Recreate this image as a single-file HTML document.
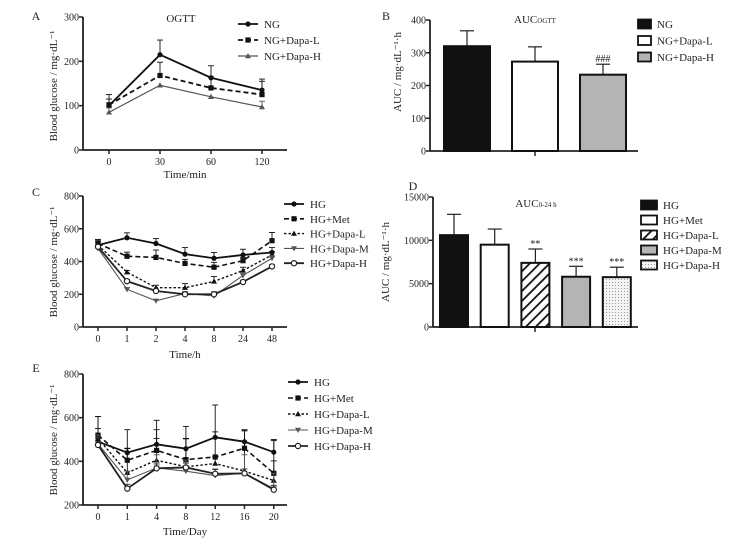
<!DOCTYPE html>
<html><head><meta charset="utf-8"><style>
html,body{margin:0;padding:0;background:#fff}
svg{display:block;font-family:"Liberation Serif",serif}
</style></head><body>
<svg id="fig" width="746" height="543" viewBox="0 0 746 543" xmlns="http://www.w3.org/2000/svg">
<defs>
<pattern id="hatch" patternUnits="userSpaceOnUse" width="7" height="7" patternTransform="rotate(45)"><rect width="7" height="7" fill="#fff"/><rect width="1.8" height="7" fill="#111"/></pattern>
<pattern id="dots" patternUnits="userSpaceOnUse" width="3" height="3"><rect width="3" height="3" fill="#f4f4f4"/><rect width="1" height="1" fill="#999"/></pattern>
</defs>
</svg>
<script>
// ---------- Panel A data ----------
const aX = ["0","30","60","120"];
const aNames = ["NG","NG+Dapa-L","NG+Dapa-H"];
const aNG = [100,215,163,135];
const aNGerr = [25,33,27,25];
const aL = [102,168,140,125];
const aLerr = [13,30,25,30];
const aH = [85,146,120,97];
const aHerr = [10,0,0,13];
const aYTicks = [0,100,200,300];
// ---------- Panel B data ----------
const bNames = ["NG","NG+Dapa-L","NG+Dapa-H"];
const bVals = [320,273,233];
const bErr = [47,45,32];
const bYTicks = [0,100,200,300,400];
// ---------- Panel C data ----------
const cX = ["0","1","2","4","8","24","48"];
const cNames = ["HG","HG+Met","HG+Dapa-L","HG+Dapa-M","HG+Dapa-H"];
const cHG = [500,545,510,445,420,440,455];
const cHGerr = [30,30,30,40,35,35,30];
const cMet = [510,432,425,388,365,405,527];
const cMeterr = [25,25,45,25,30,20,50];
const cL = [500,335,240,240,278,345,440];
const cLerr = [20,10,15,25,30,20,20];
const cM = [480,230,160,205,190,315,420];
const cMerr = [10,10,5,10,10,10,15];
const cH = [490,280,220,200,200,275,370];
const cHerr = [10,10,10,10,15,10,10];
const cYTicks = [0,200,400,600,800];
// ---------- Panel D data ----------
const dNames = ["HG","HG+Met","HG+Dapa-L","HG+Dapa-M","HG+Dapa-H"];
const dVals = [10600,9500,7400,5800,5750];
const dErr = [2400,1800,1600,1200,1150];
const dSig = ["","","**","***","***"];
const dYTicks = [0,5000,10000,15000];
// ---------- Panel E data ----------
const eX = ["0","1","4","8","12","16","20"];
const eNames = ["HG","HG+Met","HG+Dapa-L","HG+Dapa-M","HG+Dapa-H"];
const eHG = [490,440,478,458,510,490,442];
const eHGerr = [115,105,110,102,148,55,58];
const eMet = [520,405,450,408,420,460,345];
const eMeterr = [85,55,95,95,115,80,150];
const eL = [505,348,405,375,390,355,312];
const eLerr = [45,110,100,130,30,185,90];
const eM = [480,315,370,355,335,345,275];
const eMerr = [40,40,60,50,30,85,70];
const eH = [475,275,368,372,343,345,270];
const eHerr = [30,20,20,20,20,20,20];
const eYTicks = [200,400,600,800];

const svg = document.getElementById('fig');
const NS = 'http://www.w3.org/2000/svg';
function mk(tag, attrs, parent, name){
  const e = document.createElementNS(NS, tag);
  for (const k in attrs) e.setAttribute(k, attrs[k]);
  
  
  (parent||svg).appendChild(e);
  return e;
}
function txt(x,y,s,size,anchor,parent,name,extra){
  const t = mk('text',Object.assign({x:x,y:y,'font-size':size,'text-anchor':anchor||'middle',fill:'#222'},extra||{}),parent,name);
  t.textContent = s;
  return t;
}
function marker(g,type,x,y,color,name){
  if(type==='circle') mk('circle',{cx:x,cy:y,r:2.6,fill:color},g,name);
  else if(type==='ocircle') mk('circle',{cx:x,cy:y,r:2.6,fill:'#fff',stroke:color,'stroke-width':1.2},g,name);
  else if(type==='square') mk('rect',{x:x-2.6,y:y-2.6,width:5.2,height:5.2,fill:color},g,name);
  else if(type==='tri') mk('polygon',{points:`${x},${y-3} ${x-3},${y+2.2} ${x+3},${y+2.2}`,fill:color},g,name);
  else if(type==='tridown') mk('polygon',{points:`${x},${y+3} ${x-3},${y-2.2} ${x+3},${y-2.2}`,fill:color},g,name);
}
function yAxis(g,x,ymap,ticks,top,bottom,name){
  mk('line',{x1:x,y1:top,x2:x,y2:bottom,stroke:'#222','stroke-width':1.8},g,name+'-line');
  ticks.forEach(t=>{
    const y=ymap(t);
    mk('line',{x1:x-4,y1:y,x2:x,y2:y,stroke:'#222','stroke-width':1.5},g,name+'-tick');
    txt(x-4,y+3.5,String(t),10,'end',g,name+'-tick-label');
  });
}
function lineChart(cfg){
  const g = mk('g',{},svg,cfg.name);
  const ymap = v => cfg.y0px + (v-cfg.ymin)/(cfg.ymax-cfg.ymin)*(cfg.y1px-cfg.y0px);
  const xmap = i => cfg.xpos0 + i*cfg.xstep;
  yAxis(g,cfg.ax,ymap,cfg.yticks,cfg.y1px,cfg.y0px,cfg.name+'-y-axis');
  mk('line',{x1:cfg.ax,y1:cfg.y0px,x2:cfg.axEnd,y2:cfg.y0px,stroke:'#222','stroke-width':1.8},g,cfg.name+'-x-axis');
  cfg.xlabels.forEach((l,i)=>{
    mk('line',{x1:xmap(i),y1:cfg.y0px,x2:xmap(i),y2:cfg.y0px+4,stroke:'#222','stroke-width':1.5},g,cfg.name+'-x-tick');
    txt(xmap(i),cfg.y0px+15,l,10,'middle',g,cfg.name+'-x-tick-label');
  });
  cfg.series.forEach((s,si)=>{
    const sg = mk('g',{},g,cfg.name+'-series-'+si);
    s.vals.forEach((v,i)=>{
      if(s.err[i]>0){
        const x=xmap(i), y1=ymap(v), y2=ymap(v+s.err[i]);
        mk('line',{x1:x,y1:y1,x2:x,y2:y2,stroke:s.color,'stroke-width':0.9},sg,'error-bar');
        mk('line',{x1:x-3,y1:y2,x2:x+3,y2:y2,stroke:s.color,'stroke-width':0.9},sg,'error-cap');
      }
    });
    const pts = s.vals.map((v,i)=>xmap(i)+','+ymap(v)).join(' ');
    mk('polyline',{points:pts,fill:'none',stroke:s.color,'stroke-width':s.w,'stroke-dasharray':s.dash||'none'},sg,'series-line');
    s.vals.forEach((v,i)=>marker(sg,s.mark,xmap(i),ymap(v),s.color,'data-point'));
    const ly = cfg.legY + si*cfg.legStep;
    mk('line',{x1:cfg.legX,y1:ly,x2:cfg.legX+20,y2:ly,stroke:s.color,'stroke-width':s.w,'stroke-dasharray':s.dash||'none'},sg,'legend-line');
    marker(sg,s.mark,cfg.legX+10,ly,s.color,'legend-marker');
    txt(cfg.legX+26,ly+4,s.label,11,'start',sg,'legend-label');
  });
  if(cfg.title) txt(cfg.titleX,cfg.titleY,cfg.title,11,'middle',g,cfg.name+'-title');
  txt(cfg.xlabX,cfg.xlabY,cfg.xlab,11,'middle',g,cfg.name+'-x-axis-title');
  txt(0,0,cfg.ylab,11,'middle',g,cfg.name+'-y-axis-title',{transform:`translate(${cfg.ylabX},${cfg.ylabY}) rotate(-90)`});
  return g;
}
function barChart(cfg){
  const g = mk('g',{},svg,cfg.name);
  const ymap = v => cfg.y0px + (v-cfg.ymin)/(cfg.ymax-cfg.ymin)*(cfg.y1px-cfg.y0px);
  yAxis(g,cfg.ax,ymap,cfg.yticks,cfg.y1px,cfg.y0px,cfg.name+'-y-axis');
  mk('line',{x1:cfg.ax,y1:cfg.y0px,x2:cfg.axEnd,y2:cfg.y0px,stroke:'#222','stroke-width':1.8},g,cfg.name+'-x-axis');
  mk('line',{x1:cfg.tickX,y1:cfg.y0px,x2:cfg.tickX,y2:cfg.y0px+5,stroke:'#222','stroke-width':1.5},g,cfg.name+'-x-tick');
  cfg.vals.forEach((v,i)=>{
    const x = cfg.bx0 + i*cfg.bstep, w=cfg.bw, y=ymap(v), cx=x+w/2;
    const ye = ymap(v+cfg.err[i]);
    mk('line',{x1:cx,y1:y,x2:cx,y2:ye,stroke:'#222','stroke-width':1.2},g,'error-bar');
    mk('line',{x1:cx-7,y1:ye,x2:cx+7,y2:ye,stroke:'#222','stroke-width':1.2},g,'error-cap');
    mk('rect',{x:x,y:y,width:w,height:cfg.y0px-y,fill:cfg.fills[i],stroke:'#111','stroke-width':2},g,'bar-'+cfg.names[i].toLowerCase().replace(/[^a-z0-9]+/g,'-'));
    if(cfg.sig && cfg.sig[i]) txt(cx,ye-2,cfg.sig[i],10,'middle',g,'significance-mark');
    const ly = cfg.legY + i*cfg.legStep;
    mk('rect',{x:cfg.legX,y:ly-4.5,width:cfg.legW,height:9,fill:cfg.fills[i],stroke:'#111','stroke-width':1.8},g,'legend-swatch');
    txt(cfg.legX+cfg.legW+6,ly+4,cfg.names[i],11,'start',g,'legend-label');
  });
  const t = txt(cfg.titleX,cfg.titleY,cfg.title,11,'middle',g,cfg.name+'-title');
  const ts = mk('tspan',{'font-size':7},t,'title-subscript'); ts.textContent = cfg.titleSub;
  txt(0,0,cfg.ylab,11,'middle',g,cfg.name+'-y-axis-title',{transform:`translate(${cfg.ylabX},${cfg.ylabY}) rotate(-90)`});
  return g;
}
[["A",36,20],["B",386,20],["C",36,196],["D",413,190],["E",36,372]].forEach(p=>txt(p[1],p[2],p[0],12,'middle',svg,'panel-label-'+p[0].toLowerCase()));

lineChart({name:'panel-a',ax:83,axEnd:287,ymin:0,ymax:300,y0px:150,y1px:17,yticks:aYTicks,
  xlabels:aX,xpos0:109,xstep:51,
  series:[
   {label:aNames[0],vals:aNG,err:aNGerr,color:'#111',w:1.8,mark:'circle'},
   {label:aNames[1],vals:aL,err:aLerr,color:'#111',w:1.8,dash:'5,3',mark:'square'},
   {label:aNames[2],vals:aH,err:aHerr,color:'#555',w:1.2,mark:'tri'}],
  legX:238,legY:24,legStep:16,title:'OGTT',titleX:181,titleY:22,
  xlab:'Time/min',xlabX:185,xlabY:178,ylab:'Blood glucose / mg·dL⁻¹',ylabX:57,ylabY:86});

barChart({name:'panel-b',ax:430,axEnd:638,ymin:0,ymax:400,y0px:151,y1px:20,yticks:bYTicks,
  vals:bVals,err:bErr,names:bNames,fills:['#111','#fff','#b4b4b4'],sig:['','','###'],
  bx0:444,bstep:68,bw:46,tickX:535,legX:638,legY:24,legStep:16.5,legW:13,
  title:'AUC',titleSub:'OGTT',titleX:535,titleY:23,ylab:'AUC / mg·dL⁻¹·h',ylabX:401,ylabY:72});

lineChart({name:'panel-c',ax:83,axEnd:287,ymin:0,ymax:800,y0px:327,y1px:196,yticks:cYTicks,
  xlabels:cX,xpos0:98,xstep:29,
  series:[
   {label:cNames[0],vals:cHG,err:cHGerr,color:'#111',w:1.8,mark:'circle'},
   {label:cNames[1],vals:cMet,err:cMeterr,color:'#111',w:1.6,dash:'5,3',mark:'square'},
   {label:cNames[2],vals:cL,err:cLerr,color:'#111',w:1.4,dash:'2.5,2',mark:'tri'},
   {label:cNames[3],vals:cM,err:cMerr,color:'#555',w:1.1,mark:'tridown'},
   {label:cNames[4],vals:cH,err:cHerr,color:'#222',w:1.8,mark:'ocircle'}],
  legX:284,legY:204,legStep:14.8,
  xlab:'Time/h',xlabX:185,xlabY:358,ylab:'Blood glucose / mg·dL⁻¹',ylabX:57,ylabY:262});

barChart({name:'panel-d',ax:433,axEnd:638,ymin:0,ymax:15000,y0px:327,y1px:197,yticks:dYTicks,
  vals:dVals,err:dErr,names:dNames,fills:['#111','#fff','url(#hatch)','#b4b4b4','url(#dots)'],sig:dSig,
  bx0:440,bstep:40.7,bw:28,tickX:535,legX:641,legY:205,legStep:15,legW:16,
  title:'AUC',titleSub:'0-24 h',titleX:536,titleY:207,ylab:'AUC / mg·dL⁻¹·h',ylabX:389,ylabY:262});

lineChart({name:'panel-e',ax:83,axEnd:287,ymin:200,ymax:800,y0px:505,y1px:374,yticks:eYTicks,
  xlabels:eX,xpos0:98,xstep:29.3,
  series:[
   {label:eNames[0],vals:eHG,err:eHGerr,color:'#111',w:1.8,mark:'circle'},
   {label:eNames[1],vals:eMet,err:eMeterr,color:'#111',w:1.6,dash:'5,3',mark:'square'},
   {label:eNames[2],vals:eL,err:eLerr,color:'#111',w:1.4,dash:'2.5,2',mark:'tri'},
   {label:eNames[3],vals:eM,err:eMerr,color:'#555',w:1.1,mark:'tridown'},
   {label:eNames[4],vals:eH,err:eHerr,color:'#222',w:1.8,mark:'ocircle'}],
  legX:288,legY:382,legStep:16,
  xlab:'Time/Day',xlabX:185,xlabY:535,ylab:'Blood glucose / mg·dL⁻¹',ylabX:57,ylabY:440});
</script>
</body></html>
